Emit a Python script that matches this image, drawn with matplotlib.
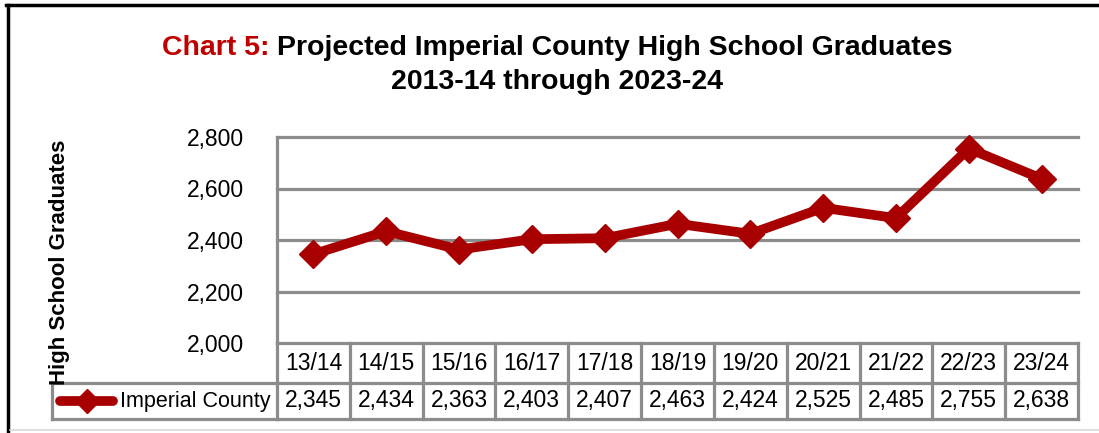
import matplotlib
matplotlib.use('Agg')
import matplotlib.pyplot as plt
from matplotlib.lines import Line2D
from matplotlib.transforms import blended_transform_factory

# --- data ---
years = ['13/14', '14/15', '15/16', '16/17', '17/18', '18/19',
         '19/20', '20/21', '21/22', '22/23', '23/24']
graduates = [2345, 2434, 2363, 2403, 2407, 2463, 2424, 2525, 2485, 2755, 2638]
series_name = 'Imperial County'
y_ticks = [2000, 2200, 2400, 2600, 2800]

# no Arial Narrow here, Liberation Sans at a slightly smaller size is the closest
plt.rcParams['font.family'] = ['Liberation Sans', 'DejaVu Sans']

RED = '#A80000'
GRID = '#8C8C8C'
W, H = 1099, 433
FS = 16.5

fig = plt.figure(figsize=(W / 100, H / 100), dpi=100)

# plot area in pixels: left 277, right 1078, top 137, bottom 343
ax = fig.add_axes([277 / W, 1 - 343 / H, (1078 - 277) / W, (343 - 137) / H])
x = list(range(len(years)))
for v in y_ticks:
    ax.axhline(v, color=GRID, lw=2.3, clip_on=False, zorder=1)
ax.plot(x, graduates, color=RED, lw=7, marker='D', ms=14,
        solid_joinstyle='miter', clip_on=False, zorder=3)
ax.set_xlim(-0.5, len(years) - 0.5)
ax.set_ylim(y_ticks[0], y_ticks[-1])
ax.set_yticks(y_ticks)
ax.set_yticklabels([f'{v:,}' for v in y_ticks], fontsize=FS)
ax.tick_params(axis='y', length=0, pad=24)
ax.set_xticks([])
for s in ['top', 'right', 'bottom']:
    ax.spines[s].set_visible(False)
ax.spines['left'].set_color(GRID)
ax.spines['left'].set_linewidth(2.3)

# --- data table under the axis ---
ph = 343 - 137
pw = 1078 - 277
row1 = -40 / ph
row2 = -76 / ph
trans = blended_transform_factory(ax.transData, ax.transAxes)
tkw = dict(color=GRID, lw=2.3, clip_on=False, solid_capstyle='projecting')
for i in range(len(years) + 1):
    ax.plot([i - 0.5, i - 0.5], [0, row2], transform=trans, **tkw)
for yy in (row1, row2):
    ax.plot([-0.5, len(years) - 0.5], [yy, yy], transform=trans, **tkw)
left_cell = (52 - 277) / pw
for yy in (row1, row2):
    ax.plot([left_cell, 0], [yy, yy], transform=ax.transAxes, **tkw)
ax.plot([left_cell, left_cell], [row1, row2], transform=ax.transAxes, **tkw)

hdr_y = -21 / ph
val_y = -58 / ph
for i, (yr, v) in enumerate(zip(years, graduates)):
    ax.text(i, hdr_y, yr, transform=trans, ha='center', va='center', fontsize=FS)
    ax.text(i, val_y, f'{v:,}', transform=trans, ha='center', va='center', fontsize=FS)
ax.text(-7 / pw, val_y, series_name, transform=ax.transAxes,
        ha='right', va='center', fontsize=15.5)
kx0, kx1 = (60 - 277) / pw, (113 - 277) / pw
ax.plot([kx0, kx1], [val_y, val_y], transform=ax.transAxes, color=RED, lw=7,
        clip_on=False, solid_capstyle='round')
ax.plot([(kx0 + kx1) / 2], [val_y], transform=ax.transAxes, color=RED,
        marker='D', ms=12, clip_on=False)

# axis title
fig.text(60 / W, 1 - 262 / H, 'High School Graduates', rotation=90,
         fontsize=16, fontweight='bold', ha='center', va='center')

# --- title, two colours on the first line ---
renderer = fig.canvas.get_renderer()
TFS = 20.5
t1 = fig.text(0, 1 - 55 / H, 'Chart 5: ', color='#C00000', fontsize=TFS,
              fontweight='bold', va='baseline')
t2 = fig.text(0, 1 - 55 / H, 'Projected Imperial County High School Graduates',
              color='black', fontsize=TFS, fontweight='bold', va='baseline')
w1 = t1.get_window_extent(renderer).width
w2 = t2.get_window_extent(renderer).width
x0 = 557 - (w1 + w2) / 2
t1.set_x(x0 / W)
t2.set_x((x0 + w1) / W)
fig.text(557 / W, 1 - 89 / H, '2013-14 through 2023-24', color='black',
         fontsize=TFS, fontweight='bold', ha='center', va='baseline')

# outer frame
fig.add_artist(Line2D([6 / W, 1], [1 - 5 / H] * 2, transform=fig.transFigure,
                      color='black', lw=2.5))
fig.add_artist(Line2D([7.5 / W] * 2, [0, 1 - 5 / H], transform=fig.transFigure,
                      color='black', lw=2.5))
fig.add_artist(Line2D([10 / W, 1], [1 - 430 / H] * 2, transform=fig.transFigure,
                      color='#D9D9D9', lw=1.2))

fig.savefig('out.png', dpi=100, facecolor='white')
